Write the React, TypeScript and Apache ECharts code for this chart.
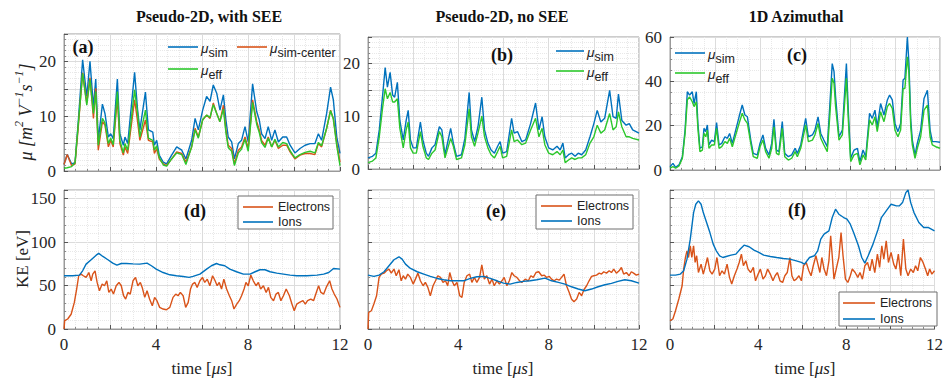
import { useEffect, useRef } from "react";
import * as echarts from "echarts";

// ---------- (a) Pseudo-2D, with SEE : mobility ----------
const timeA = [0, 0.14, 0.33, 0.48, 0.62, 0.81, 0.99, 1.13, 1.28, 1.38, 1.49, 1.67, 1.78, 1.93, 2.03, 2.14, 2.32, 2.43, 2.58, 2.65, 2.77, 3.07, 3.2, 3.3, 3.54, 3.67, 3.86, 3.93, 4.03, 4.14, 4.32, 4.46, 4.68, 4.9, 5.12, 5.3, 5.55, 5.7, 5.84, 6.03, 6.2, 6.35, 6.49, 6.64, 6.78, 6.93, 7.04, 7.14, 7.29, 7.41, 7.58, 7.72, 7.87, 8.01, 8.2, 8.38, 8.49, 8.59, 8.74, 8.88, 9.03, 9.17, 9.32, 9.51, 9.68, 9.83, 10.04, 10.26, 10.48, 10.7, 10.91, 11.06, 11.2, 11.42, 11.59, 11.71, 11.86, 12];
const muSimA = [1.2, 3.0, 1.3, 1.5, 9.0, 20.3, 13.6, 20.0, 11.7, 16.8, 5.6, 12.2, 10.5, 6.2, 6.8, 5.9, 16.8, 6.8, 4.7, 6.2, 5.0, 18.0, 11.1, 7.5, 14.4, 7.5, 7.1, 4.7, 5.6, 2.9, 1.6, 1.3, 2.9, 4.4, 3.8, 2.2, 5.6, 9.6, 7.5, 11.1, 13.6, 12.7, 15.7, 14.2, 11.1, 13.9, 9.3, 6.2, 5.3, 2.2, 5.0, 5.6, 8.1, 5.3, 15.9, 10.8, 9.3, 6.8, 5.9, 8.1, 5.6, 7.5, 5.3, 6.2, 6.2, 4.7, 3.3, 4.1, 4.7, 5.0, 5.0, 6.8, 5.6, 10.5, 15.3, 13.0, 6.2, 3.2];
const muCenterA = [1.2, 3.0, 1.0, 1.3, 8.0, 17.9, 12.4, 17.0, 9.6, 15.1, 3.8, 9.0, 8.4, 4.4, 5.6, 4.4, 13.3, 5.0, 2.9, 4.4, 3.2, 13.0, 9.0, 5.6, 9.3, 5.6, 5.3, 3.2, 4.1, 2.2, 1.3, 1.0, 2.2, 3.5, 3.2, 1.6, 4.4, 7.8, 6.2, 9.3, 10.2, 9.6, 12.4, 10.5, 9.0, 12.0, 7.5, 4.7, 4.1, 1.3, 3.8, 4.4, 6.2, 4.1, 13.0, 9.0, 7.5, 5.6, 4.7, 6.2, 4.4, 5.6, 4.1, 4.7, 4.7, 3.5, 2.2, 2.9, 3.2, 3.2, 3.0, 5.0, 4.4, 7.8, 11.1, 9.6, 5.0, 1.6];
const muEffA = [0.5, 0.6, 0.8, 1.5, 8.5, 17.8, 12.0, 16.7, 10.5, 14.5, 4.7, 9.6, 8.8, 5.0, 6.0, 4.8, 14.5, 5.6, 3.3, 5.0, 3.8, 14.8, 10.5, 6.2, 11.1, 6.0, 5.6, 3.8, 4.6, 2.5, 1.1, 0.9, 2.2, 3.3, 3.0, 1.2, 4.4, 7.5, 6.0, 9.4, 10.2, 9.8, 12.1, 10.5, 9.0, 11.3, 7.0, 4.3, 3.6, 1.0, 3.3, 4.0, 5.8, 3.6, 12.5, 8.5, 7.0, 5.2, 4.3, 6.0, 4.4, 5.8, 4.4, 5.2, 5.0, 3.7, 2.4, 3.0, 3.4, 3.6, 3.3, 5.2, 4.6, 7.8, 11.0, 9.5, 4.6, 1.0];

// ---------- (b) Pseudo-2D, no SEE : mobility ----------
const timeB = [0, 0.2, 0.35, 0.5, 0.64, 0.76, 0.86, 0.98, 1.09, 1.18, 1.3, 1.41, 1.56, 1.69, 1.78, 1.88, 2.0, 2.14, 2.32, 2.43, 2.58, 2.68, 2.83, 2.97, 3.16, 3.27, 3.41, 3.66, 3.78, 3.92, 4.14, 4.29, 4.48, 4.58, 4.72, 4.87, 5.04, 5.16, 5.31, 5.45, 5.6, 5.74, 5.85, 5.96, 6.14, 6.36, 6.47, 6.62, 6.81, 6.98, 7.2, 7.42, 7.57, 7.71, 7.83, 8.0, 8.18, 8.37, 8.51, 8.63, 8.73, 8.88, 9.02, 9.17, 9.31, 9.46, 9.64, 9.83, 10.0, 10.15, 10.31, 10.48, 10.7, 10.85, 10.99, 11.09, 11.24, 11.43, 11.57, 11.72, 12];
const muSimB = [2.1, 2.4, 3.0, 7.4, 13.6, 19.2, 15.5, 18.3, 14.0, 13.6, 16.4, 9.2, 5.5, 9.2, 11.1, 5.5, 4.0, 4.0, 8.9, 5.5, 3.0, 2.4, 4.0, 4.6, 8.0, 7.4, 2.7, 7.7, 4.9, 2.4, 2.7, 5.8, 14.5, 7.4, 5.2, 8.0, 13.6, 7.4, 4.9, 3.6, 3.0, 4.3, 5.2, 3.0, 3.3, 9.6, 6.8, 7.1, 5.2, 5.5, 8.6, 12.5, 7.4, 9.9, 6.1, 4.0, 3.6, 4.3, 3.6, 4.9, 2.1, 2.7, 3.0, 2.4, 3.0, 2.7, 3.6, 6.1, 8.6, 11.1, 8.9, 9.6, 14.9, 9.9, 9.6, 14.2, 9.2, 8.3, 8.6, 7.4, 6.8];
const muEffB = [1.2, 1.5, 2.1, 6.1, 11.4, 15.2, 13.3, 14.5, 12.7, 12.7, 13.3, 7.7, 4.0, 7.4, 8.9, 4.0, 3.0, 3.0, 7.1, 4.3, 2.1, 1.8, 3.0, 3.6, 7.1, 6.1, 2.1, 5.8, 4.3, 1.8, 2.1, 4.6, 11.4, 6.1, 4.3, 6.8, 10.0, 6.1, 4.0, 2.7, 2.1, 3.3, 4.3, 2.1, 2.4, 7.4, 5.2, 5.5, 4.6, 4.9, 7.4, 9.6, 6.1, 7.7, 4.6, 3.0, 2.7, 3.3, 2.7, 3.6, 1.2, 1.7, 2.1, 1.8, 2.1, 2.1, 2.7, 4.9, 6.1, 8.3, 6.8, 7.4, 10.5, 7.4, 8.0, 10.8, 8.0, 6.1, 6.1, 5.8, 5.5];

// ---------- (c) 1D Azimuthal : mobility ----------
const timeC = [0, 0.13, 0.25, 0.4, 0.55, 0.67, 0.77, 0.87, 0.99, 1.07, 1.17, 1.24, 1.33, 1.44, 1.51, 1.59, 1.66, 1.73, 1.85, 1.97, 2.07, 2.18, 2.3, 2.44, 2.55, 2.65, 2.77, 2.92, 3.07, 3.21, 3.33, 3.44, 3.59, 3.7, 3.88, 4.0, 4.13, 4.25, 4.4, 4.52, 4.62, 4.73, 4.84, 4.99, 5.1, 5.26, 5.41, 5.56, 5.66, 5.81, 6.03, 6.15, 6.33, 6.44, 6.58, 6.7, 6.84, 6.99, 7.1, 7.21, 7.29, 7.36, 7.51, 7.66, 7.84, 7.93, 8.03, 8.18, 8.33, 8.44, 8.58, 8.7, 8.87, 8.99, 9.11, 9.21, 9.36, 9.51, 9.66, 9.76, 9.88, 10.0, 10.13, 10.25, 10.36, 10.44, 10.55, 10.62, 10.7, 10.77, 10.89, 10.99, 11.14, 11.29, 11.44, 11.56, 11.66, 11.81, 12];
const muSimC = [1.5, 3.0, 1.2, 2.3, 6.0, 18, 35.3, 33.8, 35.3, 30, 35.3, 21, 9.8, 10.5, 18.8, 17.3, 20.3, 11.3, 13.5, 12.8, 21.4, 11.3, 12, 15, 14.3, 16.5, 12, 18, 24, 29.3, 24.8, 24, 13.5, 7.5, 6.8, 12, 15.8, 9.8, 6.8, 12, 22.9, 9, 8.3, 21.8, 7.5, 6.0, 6.8, 9.8, 7.5, 11.3, 23.3, 15, 15.8, 18, 24, 16.5, 13.5, 10.5, 28.6, 48, 44.4, 33, 15, 18, 48, 25.6, 5.3, 9, 9.8, 3.8, 9, 6.0, 25.6, 23.3, 27, 19.5, 30, 24.8, 31.6, 33.8, 31.6, 21, 17.3, 21, 40.6, 41.4, 60, 48, 22.6, 13.5, 6.8, 12, 18, 32.3, 36, 18, 12.8, 12.8, 12.5];
const muEffC = [0.8, 1.5, 0.8, 1.8, 5.3, 16.5, 31.6, 33, 30.8, 28.6, 30.8, 18.8, 8.3, 9, 16.5, 15, 18, 9.8, 11.3, 11.3, 18.8, 9.8, 10.5, 12.8, 12, 14.3, 10.5, 15.8, 21, 25.6, 22.6, 21, 12, 6, 5.3, 10.5, 13.5, 8.3, 5.3, 9.8, 19.5, 7.5, 6.8, 18.8, 6, 4.5, 5.3, 8.3, 6, 9.8, 20.3, 12.8, 13.5, 15.8, 21, 14.3, 11.3, 8.3, 24, 41.4, 39.1, 28.6, 13.5, 15.8, 41.4, 21.8, 3.8, 6.8, 7.5, 2.3, 6.8, 4.5, 22.6, 20.3, 24, 17.3, 26.3, 21.8, 28.6, 30, 27.8, 18, 15, 18, 36.8, 36.8, 51.1, 43.6, 19.5, 11.3, 5.3, 9.8, 15, 27, 29.3, 15, 11.3, 10.5, 9.8];

// ---------- (d) Pseudo-2D, with SEE : kinetic energy ----------
const timeIonsD = [0, 0.38, 0.67, 0.81, 0.96, 1.18, 1.4, 1.51, 1.69, 1.91, 2.12, 2.3, 2.49, 2.71, 3.0, 3.29, 3.61, 3.8, 4.01, 4.31, 4.6, 4.89, 5.18, 5.44, 5.61, 5.91, 6.2, 6.41, 6.63, 6.78, 6.99, 7.21, 7.5, 7.8, 8.09, 8.31, 8.52, 8.74, 8.96, 9.25, 9.54, 9.83, 10.12, 10.56, 11.0, 11.29, 11.51, 11.72, 12];
const ionsD = [61.3, 61.3, 62, 67, 74.7, 79.7, 85, 87, 83.5, 79.7, 75.8, 73.5, 75.4, 75.4, 75, 74.7, 75.8, 72.8, 68.9, 65, 62.4, 61.3, 60.5, 59.4, 60.5, 63.2, 68.9, 72.8, 75.4, 73.9, 72.8, 68.9, 65.9, 63.2, 63.2, 65.9, 68.2, 68.2, 65.9, 64.3, 63.2, 62, 61.3, 61.3, 62, 63.2, 65, 69.7, 68.9];
const timeElecD = [0, 0.03, 0.16, 0.31, 0.45, 0.55, 0.64, 0.74, 0.84, 0.96, 1.08, 1.18, 1.25, 1.35, 1.44, 1.54, 1.66, 1.76, 1.86, 1.95, 2.05, 2.15, 2.27, 2.39, 2.49, 2.59, 2.68, 2.78, 2.88, 3.0, 3.11, 3.21, 3.32, 3.4, 3.51, 3.61, 3.72, 3.84, 3.94, 4.04, 4.16, 4.31, 4.45, 4.6, 4.74, 4.86, 4.96, 5.06, 5.18, 5.29, 5.4, 5.5, 5.59, 5.69, 5.79, 5.91, 6.02, 6.12, 6.23, 6.34, 6.46, 6.57, 6.66, 6.75, 6.85, 6.95, 7.07, 7.19, 7.29, 7.39, 7.51, 7.62, 7.72, 7.83, 7.91, 8.01, 8.12, 8.23, 8.35, 8.45, 8.55, 8.67, 8.79, 8.89, 8.99, 9.11, 9.22, 9.32, 9.43, 9.54, 9.66, 9.8, 9.91, 10.01, 10.12, 10.24, 10.39, 10.49, 10.59, 10.73, 10.85, 10.97, 11.07, 11.17, 11.29, 11.4, 11.55, 11.65, 11.75, 11.87, 12];
const electronsD = [0, 9.6, 11.5, 17, 30.6, 46, 61.3, 63.2, 61.3, 59.4, 65, 55.5, 63.2, 67, 53.6, 44, 51.7, 49.8, 55.5, 42.1, 46, 40.2, 49.8, 53.6, 49.8, 38.3, 34.5, 42.1, 40.2, 55.5, 59.4, 49.8, 53.6, 47.9, 36.4, 44, 34.5, 26.8, 36.4, 32.6, 24.9, 23, 22.2, 24.9, 36.4, 40.2, 38.3, 42.1, 38.3, 24.9, 30.6, 46, 51.7, 53.6, 47.9, 55.5, 59.4, 53.6, 57.4, 49.8, 61.3, 55.5, 49.8, 53.6, 46, 57.4, 46, 38.3, 32.6, 23, 28.7, 32.6, 38.3, 46, 53.6, 49.8, 62, 55.5, 49.8, 53.6, 46, 49.8, 42.1, 47.9, 36.4, 32.6, 40.2, 42.1, 32.6, 38.3, 46, 38.3, 28.7, 21.1, 28.7, 30.6, 32.6, 28.7, 32.6, 34.5, 32.6, 42.1, 49.8, 42.1, 40.2, 47.9, 55.5, 46, 40.2, 34.5, 24.9];

// ---------- (e) Pseudo-2D, no SEE : kinetic energy ----------
const timeIonsE = [0, 0.26, 0.49, 0.71, 0.93, 1.15, 1.37, 1.51, 1.66, 1.88, 2.18, 2.47, 2.76, 3.06, 3.35, 3.65, 3.94, 4.24, 4.53, 4.82, 5.12, 5.41, 5.71, 6.0, 6.29, 6.59, 6.88, 7.18, 7.47, 7.84, 8.13, 8.43, 8.72, 9.01, 9.31, 9.6, 9.9, 10.19, 10.49, 10.78, 11.07, 11.37, 11.66, 12];
const ionsE = [62, 60.5, 62, 65.9, 72.8, 79.7, 83.1, 80.4, 74.7, 69.7, 65.9, 63.2, 60.5, 58.2, 56.7, 55.5, 55.5, 55.5, 58.2, 60.1, 60.5, 58.2, 55.5, 52.8, 51.7, 53.6, 54.8, 55.5, 56.7, 58.6, 55.5, 53.6, 51.7, 48.6, 46, 44, 46, 48.6, 50.9, 52.5, 54.8, 56.7, 55.5, 52.8];
const timeElecE = [0, 0.03, 0.15, 0.26, 0.38, 0.49, 0.59, 0.71, 0.82, 0.93, 1.03, 1.15, 1.25, 1.37, 1.47, 1.56, 1.66, 1.76, 1.88, 2.0, 2.1, 2.21, 2.32, 2.44, 2.54, 2.65, 2.76, 2.88, 2.99, 3.09, 3.21, 3.32, 3.43, 3.53, 3.62, 3.72, 3.82, 3.94, 4.06, 4.16, 4.26, 4.38, 4.5, 4.6, 4.71, 4.82, 4.94, 5.04, 5.15, 5.26, 5.38, 5.49, 5.59, 5.71, 5.82, 5.93, 6.03, 6.15, 6.26, 6.37, 6.47, 6.59, 6.71, 6.81, 6.96, 7.1, 7.21, 7.32, 7.44, 7.56, 7.69, 7.81, 7.91, 8.03, 8.13, 8.24, 8.35, 8.47, 8.57, 8.68, 8.79, 8.91, 9.01, 9.12, 9.24, 9.35, 9.46, 9.56, 9.68, 9.79, 9.9, 10.0, 10.12, 10.24, 10.34, 10.44, 10.56, 10.68, 10.78, 10.88, 11.0, 11.12, 11.22, 11.32, 11.44, 11.56, 11.66, 11.76, 11.88, 12];
const electronsE = [0, 19, 21, 28.7, 38.3, 59.4, 63.2, 64.3, 67, 69, 64.3, 69, 61.3, 68.2, 55.5, 61.3, 57.4, 63.2, 59.4, 51.7, 57.4, 64.3, 55.5, 49.8, 53.6, 47.9, 38.3, 49.8, 55.5, 61.3, 59.4, 53.6, 55.5, 49.8, 65, 55.5, 49.8, 53.6, 38.3, 36.4, 53.6, 61.3, 63.2, 53.6, 59.4, 53.6, 59.4, 73.9, 57.4, 61.3, 51.7, 57.4, 49.8, 55.5, 51.7, 55.5, 59.4, 49.8, 55.5, 65, 61.3, 59.4, 55.5, 53.6, 57.4, 55.5, 61.3, 59.4, 65, 65.9, 61.3, 62, 59.4, 60.5, 57.4, 55.5, 57.4, 56.3, 59.4, 63.2, 49.8, 42.1, 34.5, 31.4, 34.5, 42.1, 38.3, 45.2, 49.8, 55.5, 60.5, 61.3, 62, 64.3, 63.2, 65.9, 64.3, 67, 65, 69, 64.3, 67, 70.9, 63.2, 65, 61.3, 65.9, 64.3, 62, 63.2];

// ---------- (f) 1D Azimuthal : kinetic energy ----------
const timeIonsF = [0, 0.25, 0.47, 0.62, 0.77, 0.92, 1.07, 1.17, 1.29, 1.41, 1.51, 1.66, 1.81, 1.96, 2.1, 2.25, 2.4, 2.55, 2.77, 2.99, 3.19, 3.36, 3.59, 3.81, 4.03, 4.25, 4.55, 4.84, 5.14, 5.44, 5.73, 5.96, 6.1, 6.33, 6.55, 6.7, 6.84, 6.99, 7.21, 7.36, 7.51, 7.66, 7.88, 8.03, 8.18, 8.33, 8.55, 8.7, 8.84, 8.99, 9.21, 9.44, 9.59, 9.81, 10.03, 10.27, 10.4, 10.55, 10.7, 10.8, 10.92, 11.07, 11.29, 11.51, 11.73, 12];
const ionsF = [62, 62, 63.2, 67, 80.4, 103.4, 134, 143.6, 147.5, 143.6, 134, 122.6, 111, 97.7, 90, 84.3, 82.3, 83.5, 85, 86.2, 92, 96.5, 94.7, 90.8, 88.1, 85, 83.5, 82.3, 81.2, 80.4, 78.5, 76.6, 74.7, 82.3, 84.3, 90, 103.4, 109.2, 113, 128.3, 137.9, 132.1, 128.3, 126.4, 120.6, 111, 95.8, 82.3, 75.8, 84.3, 97.7, 114.9, 128.3, 136, 143.6, 141.7, 141.7, 145.5, 157, 160, 145.5, 134, 122.6, 116.8, 116.8, 113];
const timeElecF = [0, 0.13, 0.25, 0.4, 0.55, 0.62, 0.7, 0.77, 0.84, 0.92, 0.99, 1.07, 1.14, 1.21, 1.29, 1.41, 1.51, 1.61, 1.7, 1.81, 1.91, 2.03, 2.13, 2.25, 2.36, 2.47, 2.59, 2.7, 2.8, 2.92, 3.04, 3.14, 3.24, 3.33, 3.44, 3.54, 3.66, 3.78, 3.88, 4.0, 4.1, 4.22, 4.33, 4.43, 4.55, 4.67, 4.77, 4.87, 4.99, 5.11, 5.21, 5.32, 5.44, 5.53, 5.63, 5.73, 5.85, 5.96, 6.06, 6.18, 6.3, 6.4, 6.5, 6.62, 6.71, 6.8, 6.89, 6.99, 7.1, 7.21, 7.29, 7.36, 7.44, 7.54, 7.66, 7.76, 7.85, 7.96, 8.07, 8.18, 8.27, 8.4, 8.52, 8.62, 8.73, 8.84, 8.96, 9.07, 9.17, 9.29, 9.41, 9.51, 9.61, 9.7, 9.81, 9.91, 10.03, 10.15, 10.25, 10.36, 10.47, 10.59, 10.7, 10.8, 10.92, 11.04, 11.14, 11.24, 11.36, 11.48, 11.59, 11.69, 11.78, 11.88, 12];
const electronsF = [9.6, 11.5, 21, 34.5, 49.8, 69, 82.3, 90, 82.3, 95.8, 82.3, 95.8, 76.6, 84.3, 65, 74.7, 63.2, 72.8, 82.3, 67, 63.2, 69, 82.3, 61.3, 67, 63.2, 74.7, 59.4, 51.7, 61.3, 69, 76.6, 86.2, 72.8, 78.5, 69, 65, 70.9, 55.5, 63.2, 69, 57.4, 61.3, 69, 63.2, 55.5, 61.3, 65, 55.5, 53.6, 61.3, 65, 82.3, 61.3, 55.5, 57.4, 61.3, 55.5, 72.8, 76.6, 67, 61.3, 72.8, 84.3, 74.7, 65, 82.3, 69, 61.3, 78.5, 107.2, 84.3, 57.4, 69, 82.3, 111, 84.3, 57.4, 53.6, 61.3, 69, 65, 59.4, 65, 57.4, 72.8, 76.6, 67, 80.4, 65, 86.2, 70.9, 95.8, 80.4, 101.5, 76.6, 88.1, 74.7, 69, 86.2, 61.3, 103.4, 69, 61.3, 69, 65, 72.8, 67, 82.3, 76.6, 69, 61.3, 69, 63.2, 67];

// ---------- text ----------
const columnTitles = ["Pseudo-2D, with SEE", "Pseudo-2D, no SEE", "1D Azimuthal"];
const panelLetters = ["(a)", "(b)", "(c)", "(d)", "(e)", "(f)"];
const timeTicks = [0, 4, 8, 12];

const BLUE = "#0072BD";
const ORANGE = "#D95319";
const GREEN = "#2CC72C";
const SERIF = "Liberation Serif";
const SANS = "Liberation Sans";
const FRAME = "#9a9a9a";

const zip = (t: number[], v: number[]) => t.map((x, i) => [x, v[i]]);

const boxes = [
  { left: 64, top: 34, width: 276, height: 137 },
  { left: 368, top: 37, width: 271, height: 132 },
  { left: 670, top: 37, width: 270, height: 133 },
  { left: 64, top: 190, width: 276, height: 139 },
  { left: 368, top: 190, width: 271, height: 139 },
  { left: 670, top: 190, width: 270, height: 139 },
];

function xAxisFor(i: number, showLabels: boolean) {
  return {
    type: "value",
    gridIndex: i,
    min: 0,
    max: 12,
    interval: 2,
    axisLine: { show: true, onZero: false, lineStyle: { color: FRAME, width: 1 } },
    axisTick: { show: true, inside: true, length: 4, lineStyle: { color: "#555" } },
    minorTick: { show: true, splitNumber: 4, length: 2, lineStyle: { color: "#888" } },
    splitLine: { show: true, lineStyle: { color: "#dcdcdc", width: 1 } },
    minorSplitLine: { show: true, lineStyle: { color: "#e8e8e8", width: 1, type: "dotted" } },
    axisLabel: {
      show: showLabels,
      margin: 7,
      fontFamily: SERIF,
      fontSize: 17,
      color: "#262626",
      formatter: (v: number) => (timeTicks.includes(v) ? String(v) : ""),
    },
  };
}

function yAxisFor(i: number, max: number, interval: number, labelEvery: number, minorSplit: number, showLabels: boolean) {
  return {
    type: "value",
    gridIndex: i,
    min: 0,
    max,
    interval,
    axisLine: { show: true, onZero: false, lineStyle: { color: FRAME, width: 1 } },
    axisTick: { show: true, inside: true, length: 4, lineStyle: { color: "#555" } },
    minorTick: { show: true, splitNumber: minorSplit, length: 2, lineStyle: { color: "#888" } },
    splitLine: { show: true, lineStyle: { color: "#dcdcdc", width: 1 } },
    minorSplitLine: { show: true, lineStyle: { color: "#e8e8e8", width: 1, type: "dotted" } },
    axisLabel: {
      show: showLabels,
      margin: 8,
      fontFamily: SERIF,
      fontSize: 17,
      color: "#262626",
      formatter: (v: number) => (v % labelEvery === 0 ? String(v) : ""),
    },
  };
}

function line(name: string, grid: number, data: number[][], color: string) {
  return {
    name,
    type: "line",
    xAxisIndex: grid,
    yAxisIndex: grid,
    data,
    showSymbol: false,
    symbol: "none",
    clip: true,
    lineStyle: { color, width: 1.4 },
    itemStyle: { color },
  };
}

const muRich = {
  m: { fontFamily: SANS, fontStyle: "italic", fontSize: 13.5, lineHeight: 18, verticalAlign: "top", fill: "#222" },
  s: { fontFamily: SANS, fontSize: 12.5, lineHeight: 18, verticalAlign: "bottom", fill: "#222" },
};

function legendEntry(x1: number, x2: number, y: number, color: string, label: string, mu: boolean) {
  const items: any[] = [
    { type: "line", shape: { x1, y1: y, x2, y2: y }, style: { stroke: color, lineWidth: 1.6 }, z: 20 },
  ];
  if (mu) {
    items.push({
      type: "text",
      x: x2 + 3,
      y: y + 3,
      z: 20,
      style: { text: `{m|μ}{s|${label}}`, rich: muRich, verticalAlign: "middle", align: "left" },
    });
  } else {
    items.push({
      type: "text",
      x: x2 + 5,
      y,
      z: 20,
      style: { text: label, fontFamily: SANS, fontSize: 12.5, fill: "#222", verticalAlign: "middle", align: "left" },
    });
  }
  return items;
}

function legendBox(x: number, y: number, w: number, h: number) {
  return {
    type: "rect",
    shape: { x, y, width: w, height: h },
    style: { fill: "#fff", stroke: "#6e6e6e", lineWidth: 1 },
    z: 19,
  };
}

function buildOption() {
  const titleCenters = [209, 502, 796];
  const letterPos = [
    [83, 47], [502, 55], [797, 55], [195, 211], [496, 211], [797, 210],
  ];
  const graphics: any[] = [];
  columnTitles.forEach((t, i) =>
    graphics.push({
      type: "text", x: titleCenters[i], y: 16,
      style: { text: t, fontFamily: SERIF, fontWeight: "bold", fontSize: 16, fill: "#111", align: "center", verticalAlign: "middle" },
    })
  );
  panelLetters.forEach((t, i) =>
    graphics.push({
      type: "text", x: letterPos[i][0], y: letterPos[i][1], z: 20,
      style: { text: t, fontFamily: SERIF, fontWeight: "bold", fontSize: 18, fill: "#111", align: "center", verticalAlign: "middle" },
    })
  );
  // axis titles
  const supStyle = { fontFamily: SERIF, fontStyle: "italic", fontSize: 12, lineHeight: 22, verticalAlign: "top", fill: "#222" };
  const baseStyle = { fontFamily: SERIF, fontStyle: "italic", fontSize: 18, lineHeight: 22, verticalAlign: "bottom", fill: "#222" };
  graphics.push({
    type: "text", x: 24, y: 112, rotation: Math.PI / 2,
    style: {
      text: "{b|μ [m}{p|2}{b| V}{p|−1}{b|s}{p|−1}{b|]}",
      rich: { b: baseStyle, p: supStyle },
      align: "center", verticalAlign: "middle",
    },
  });
  graphics.push({
    type: "text", x: 22, y: 259, rotation: Math.PI / 2,
    style: { text: "KE [eV]", fontFamily: SERIF, fontSize: 17, fill: "#222", align: "center", verticalAlign: "middle" },
  });
  [202, 503, 805].forEach((cx) =>
    graphics.push({
      type: "text", x: cx, y: 368,
      style: {
        text: "time [{i|μs}]",
        fontFamily: SERIF, fontSize: 17, fill: "#222", align: "center", verticalAlign: "middle",
        rich: { i: { fontFamily: SERIF, fontSize: 17, fontStyle: "italic", fill: "#222" } },
      },
    })
  );

  // legends
  graphics.push(...legendEntry(168, 198, 47, BLUE, "sim", true));
  graphics.push(...legendEntry(237, 267, 47, ORANGE, "sim-center", true));
  graphics.push(...legendEntry(168, 198, 69, GREEN, "eff", true));

  graphics.push(...legendEntry(556, 584, 51, BLUE, "sim", true));
  graphics.push(...legendEntry(556, 584, 71, GREEN, "eff", true));

  graphics.push(...legendEntry(675, 705, 53, BLUE, "sim", true));
  graphics.push(...legendEntry(675, 705, 73, GREEN, "eff", true));

  graphics.push(legendBox(238, 196, 95, 33));
  graphics.push(...legendEntry(243, 273, 207, ORANGE, "Electrons", false));
  graphics.push(...legendEntry(243, 273, 222, BLUE, "Ions", false));

  graphics.push(legendBox(536, 195, 97, 34));
  graphics.push(...legendEntry(541, 572, 206, ORANGE, "Electrons", false));
  graphics.push(...legendEntry(541, 572, 221, BLUE, "Ions", false));

  graphics.push(legendBox(839, 292, 98, 34));
  graphics.push(...legendEntry(843, 875, 303, ORANGE, "Electrons", false));
  graphics.push(...legendEntry(843, 875, 319, BLUE, "Ions", false));

  return {
    animation: false,
    backgroundColor: "#fff",
    grid: boxes.map((b) => ({ ...b, show: true, backgroundColor: "#fff", borderColor: FRAME, borderWidth: 1 })),
    xAxis: [0, 1, 2, 3, 4, 5].map((i) => xAxisFor(i, i >= 3)),
    yAxis: [
      yAxisFor(0, 25, 5, 10, 5, true),
      yAxisFor(1, 25, 5, 10, 5, true),
      yAxisFor(2, 60, 20, 20, 4, true),
      yAxisFor(3, 160, 50, 50, 5, true),
      yAxisFor(4, 160, 50, 50, 5, false),
      yAxisFor(5, 160, 50, 50, 5, false),
    ],
    series: [
      line("μsim", 0, zip(timeA, muSimA), BLUE),
      line("μsim-center", 0, zip(timeA, muCenterA), ORANGE),
      line("μeff", 0, zip(timeA, muEffA), GREEN),
      line("μsim", 1, zip(timeB, muSimB), BLUE),
      line("μeff", 1, zip(timeB, muEffB), GREEN),
      line("μsim", 2, zip(timeC, muSimC), BLUE),
      line("μeff", 2, zip(timeC, muEffC), GREEN),
      line("Electrons", 3, zip(timeElecD, electronsD), ORANGE),
      line("Ions", 3, zip(timeIonsD, ionsD), BLUE),
      line("Electrons", 4, zip(timeElecE, electronsE), ORANGE),
      line("Ions", 4, zip(timeIonsE, ionsE), BLUE),
      line("Electrons", 5, zip(timeElecF, electronsF), ORANGE),
      line("Ions", 5, zip(timeIonsF, ionsF), BLUE),
    ],
    graphic: graphics,
  };
}

export default function App() {
  const ref = useRef<HTMLDivElement>(null);
  useEffect(() => {
    if (!ref.current) return;
    const chart = echarts.init(ref.current, undefined, { renderer: "svg" });
    chart.setOption(buildOption() as any);
    return () => chart.dispose();
  }, []);
  return (
    <div
      ref={ref}
      style={{ position: "absolute", left: 0, top: 0, width: 946, height: 381, background: "#fff" }}
    />
  );
}
